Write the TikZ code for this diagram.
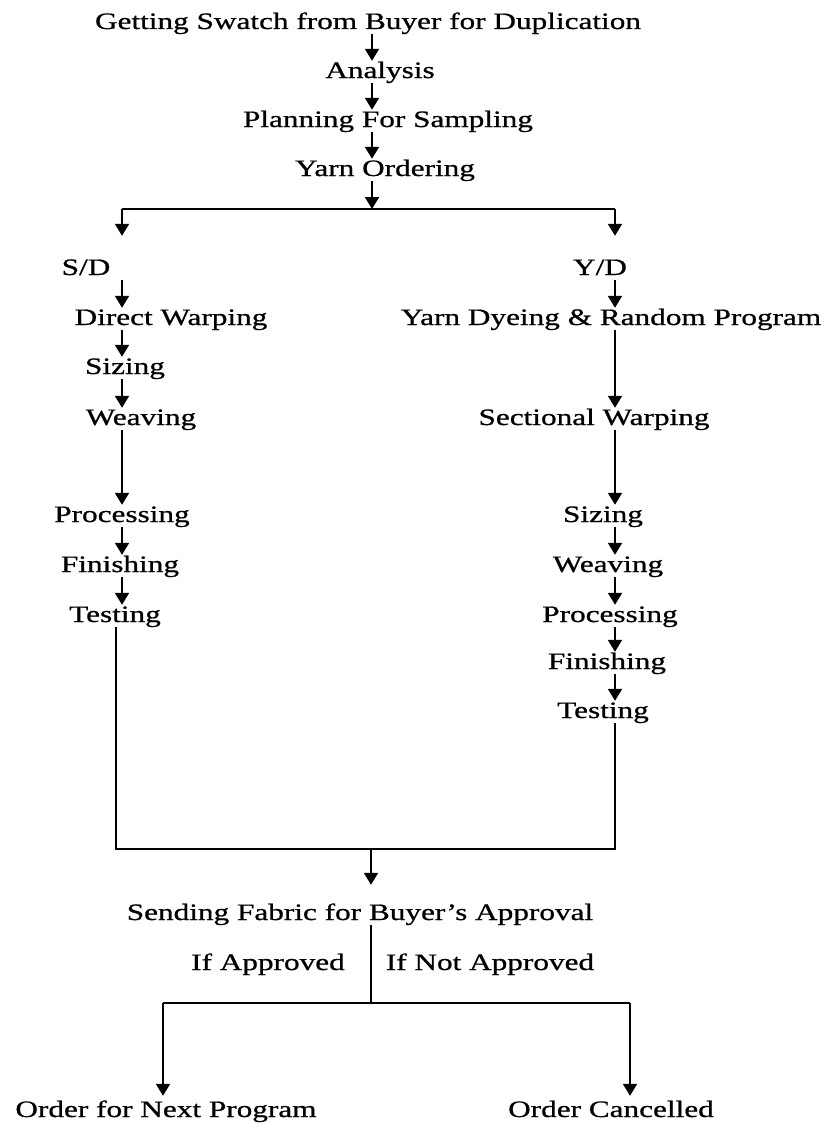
\documentclass[tikz,border=0pt]{standalone}
\usepackage{fontspec}
\setmainfont{Liberation Serif}[FakeStretch=1.33,FakeBold=0.8]
\usetikzlibrary{arrows.meta}
\begin{document}
\begin{tikzpicture}[x=1pt,y=-1pt,
  lbl/.style={anchor=base,inner sep=0pt,text height=17pt,text depth=5pt,
    font=\fontsize{23.5}{28}\selectfont},
  conn/.style={line width=2pt,draw=black},
  arr/.style={conn,-{Triangle[width=14pt,length=12pt]}}]
\useasboundingbox (0,0) rectangle (828,1124);
% column coordinates
\coordinate (colM) at (372,0);
\coordinate (colL) at (122,0);
\coordinate (colR) at (615,0);
% top chain
\node[lbl] (g)  at (368,29)  {Getting Swatch from Buyer for Duplication};
\node[lbl] (an) at (380,78)  {Analysis};
\node[lbl] (pl) at (388,127) {Planning For Sampling};
\node[lbl] (yo) at (385,176) {Yarn Ordering};
% left branch
\node[lbl] (sd)  at (86,275)  {S/D};
\node[lbl] (dw)  at (171,325) {Direct Warping};
\node[lbl] (lsz) at (125,374) {Sizing};
\node[lbl] (lwv) at (141,425) {Weaving};
\node[lbl] (lpr) at (122,522) {Processing};
\node[lbl] (lfn) at (120,572) {Finishing};
\node[lbl] (lts) at (115,622) {Testing};
% right branch
\node[lbl] (yd)  at (600,275) {Y/D};
\node[lbl] (ydr) at (611,325) {Yarn Dyeing \& Random Program};
\node[lbl] (swp) at (594,425) {Sectional Warping};
\node[lbl] (rsz) at (603,522) {Sizing};
\node[lbl] (rwv) at (608,572) {Weaving};
\node[lbl] (rpr) at (610,622) {Processing};
\node[lbl] (rfn) at (607,669) {Finishing};
\node[lbl] (rts) at (603,718) {Testing};
% bottom
\node[lbl] (sf)  at (360,920) {Sending Fabric for Buyer’s Approval};
\node[lbl] (ia)  at (268,970) {If Approved};
\node[lbl] (ina) at (490,970) {If Not Approved};
\node[lbl] (onp) at (166,1117) {Order for Next Program};
\node[lbl] (oc)  at (611,1117) {Order Cancelled};
% junction coordinates
\coordinate (split)  at (372,209);
\coordinate (splitL) at (122,209);
\coordinate (splitR) at (615,209);
\coordinate (joinL) at (116,849);
\coordinate (joinR) at (615,849);
\coordinate (joinM) at (371,849);
\coordinate (forkM) at (371,1003);
\coordinate (forkL) at (163,1003);
\coordinate (forkR) at (630,1003);
% top arrows
\draw[arr] (g.south -| colM) -- (an.north -| colM);
\draw[arr] (an.south -| colM) -- (pl.north -| colM);
\draw[arr] (pl.south -| colM) -- (yo.north -| colM);
\draw[arr] (yo.south -| colM) -- (split);
\draw[conn] (splitL) -- (splitR);
\draw[arr,shorten >=22pt] (splitL) -- (sd.north -| splitL);
\draw[arr,shorten >=22pt] (splitR) -- (yd.north -| splitR);
% left arrows
\draw[arr] (sd.south -| colL) -- (dw.north -| colL);
\draw[arr] (dw.south -| colL) -- (lsz.north -| colL);
\draw[arr] (lsz.south -| colL) -- (lwv.north -| colL);
\draw[arr] (lwv.south -| colL) -- (lpr.north -| colL);
\draw[arr] (lpr.south -| colL) -- (lfn.north -| colL);
\draw[arr] (lfn.south -| colL) -- (lts.north -| colL);
% right arrows
\draw[arr] (yd.south -| colR) -- (ydr.north -| colR);
\draw[arr] (ydr.south -| colR) -- (swp.north -| colR);
\draw[arr] (swp.south -| colR) -- (rsz.north -| colR);
\draw[arr] (rsz.south -| colR) -- (rwv.north -| colR);
\draw[arr] (rwv.south -| colR) -- (rpr.north -| colR);
\draw[arr] (rpr.south -| colR) -- (rfn.north -| colR);
\draw[arr] (rfn.south -| colR) -- (rts.north -| colR);
% merge
\draw[conn] (lts.south -| joinL) -- (joinL) -- (joinR) -- (rts.south -| joinR);
\draw[arr,shorten >=18pt] (joinM) -- (sf.north -| joinM);
% decision
\draw[conn] (sf.south -| forkM) -- (forkM);
\draw[conn] (forkL) -- (forkR);
\draw[arr,shorten >=4pt] (forkL) -- (onp.north -| forkL);
\draw[arr,shorten >=4pt] (forkR) -- (oc.north -| forkR);
\end{tikzpicture}
\end{document}
